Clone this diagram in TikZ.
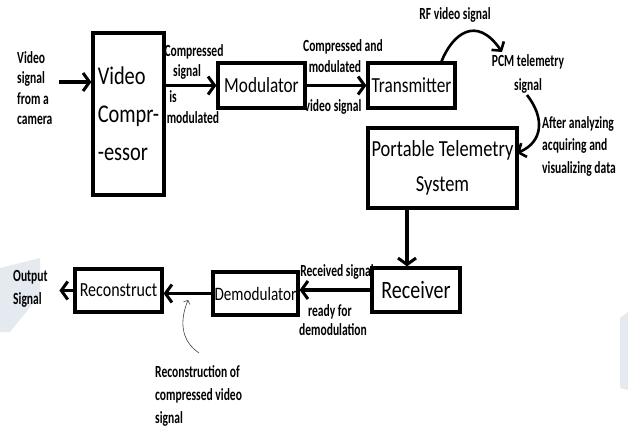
\documentclass[tikz,border=0pt]{standalone}
\usepackage{fontspec}
\setmainfont{Carlito}[FakeStretch=0.8]
\newfontfamily\labfont{Carlito}[FakeStretch=0.68]
\usetikzlibrary{arrows.meta}
\definecolor{wm}{HTML}{E4EAF0}
\tikzset{
  blk/.style={draw, line width=3.2pt, inner sep=0pt, align=center},
  lab/.style={inner sep=0pt, align=left, font=\labfont\bfseries\fontsize{17}{20.5}\selectfont},
  arr/.style={line width=3.2pt, -{Straight Barb[length=6.5pt,width=18pt,line width=3pt]}},
  thinarr/.style={line width=0.6pt, draw=black!75, -{Straight Barb[length=3pt,width=7pt,line width=0.6pt]}},
  curvarr/.style={line width=2.6pt, -{Straight Barb[length=6pt,width=15pt,line width=2.6pt]}}
}
\begin{document}
\begin{tikzpicture}[x=1pt,y=-1pt]
\useasboundingbox (0,0) rectangle (628,431);
% faint watermark shapes
\fill[wm] (0,268) -- (40,258) -- (40,295) -- (10,332) -- (0,332) -- cycle;
\fill[wm] (620,318) -- (628,312) -- (628,390) -- (620,388) -- cycle;

% boxes
\node[blk, minimum width=71pt, minimum height=162pt, align=left,
      font=\fontsize{25.5}{38}\selectfont] (comp) at (128.5,114) {Video\\Compr-\\-essor};
\node[blk, minimum width=87pt, minimum height=45pt,
      font=\fontsize{21.5}{26}\selectfont] (mod) at (261.5,85.5) {Modulator};
\node[blk, minimum width=87pt, minimum height=45pt,
      font=\fontsize{21.5}{26}\selectfont] (tx) at (411.5,85.5) {Transmitter};
\node[blk, minimum width=149pt, minimum height=80pt,
      font=\fontsize{23}{35}\selectfont] (port) at (442.5,168) {Portable Telemetry\\System};
\node[blk, minimum width=88pt, minimum height=44pt,
      font=\fontsize{25}{30}\selectfont] (rx) at (416,290) {Receiver};
\node[blk, minimum width=85pt, minimum height=43pt,
      font=\fontsize{19}{24}\selectfont] (demod) at (255.5,293.5) {Demodulator};
\node[blk, minimum width=87pt, minimum height=43pt,
      font=\fontsize{20}{24}\selectfont] (rec) at (118.5,290.5) {Reconstruct};

% labels
\node[lab, anchor=west] (in) at (17,88) {Video\\signal\\from a\\camera};
\node[lab] (l1) at (194,52) {Compressed};
\node[lab] (l2) at (187,72) {signal};
\node[lab] (l3) at (173,97) {is};
\node[lab] (l4) at (193,118) {modulated};
\node[lab] (m1) at (343,47) {Compressed and};
\node[lab] (m2) at (335,67) {modulated};
\node[lab] (m3) at (333,107) {video signal};
\node[lab] (rf) at (455,15) {RF video signal};
\node[lab, align=center, font=\labfont\bfseries\fontsize{17}{24}\selectfont] (pcm) at (528,74) {PCM telemetry\\signal};
\node[lab, anchor=north west, font=\labfont\bfseries\fontsize{17}{22.5}\selectfont] (aft) at (542,116) {After analyzing\\acquiring and\\visualizing data};
\node[lab] (r1) at (337,272) {Received signal};
\node[lab] (r2) at (330,312) {ready for};
\node[lab] (r3) at (333,330) {demodulation};
\node[lab, anchor=west, font=\labfont\bfseries\fontsize{17}{23}\selectfont] (out) at (13,288.5) {Output\\Signal};
\node[lab, anchor=north west, font=\labfont\bfseries\fontsize{17}{23}\selectfont] (recl) at (155,365) {Reconstruction of\\compressed video\\signal};

% connectors
\coordinate (inA) at ([yshift=6pt]in.east);
\draw[arr] ([xshift=6pt]inA) -- (inA -| comp.west);
\draw[arr] (mod.west -| comp.east) -- (mod.west);
\draw[arr] (mod.east) -- (tx.west);
\coordinate (txTop) at ([xshift=30pt]tx.north);
\coordinate (pcmIn) at (502,52);
\draw[curvarr] (txTop) .. controls (452,35) and (476,14) .. (pcmIn);
\coordinate (pcmOut) at (527,95);
\coordinate (portIn) at (517,153);
\draw[curvarr] (pcmOut) .. controls (545,118) and (543,142) .. (portIn);
\coordinate (portOut) at ([xshift=-35.5pt]port.south);
\draw[arr] (portOut) -- (portOut |- rx.north);
\draw[arr] (rx.west) -- (rx.west -| demod.east);
\draw[arr] (demod.west) -- (demod.west -| rec.east);
\draw[arr] (rec.west) -- ([xshift=-14pt]rec.west);
\coordinate (tA) at (199,353);
\coordinate (tB) at (188,300);
\draw[thinarr] (tA) .. controls (180,340) and (180,320) .. (tB);
\end{tikzpicture}
\end{document}
